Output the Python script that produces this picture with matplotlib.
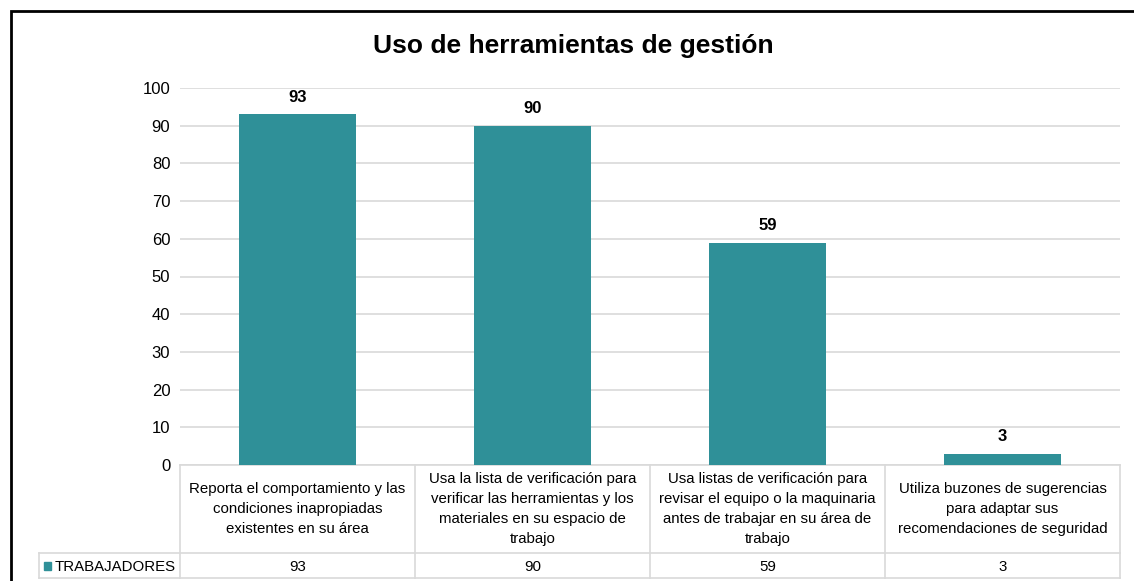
import matplotlib.pyplot as plt
import matplotlib.transforms as mtransforms
from matplotlib.patches import Rectangle

categorias = [
    "Reporta el comportamiento y las\ncondiciones inapropiadas\nexistentes en su área",
    "Usa la lista de verificación para\nverificar las herramientas y los\nmateriales en su espacio de\ntrabajo",
    "Usa listas de verificación para\nrevisar el equipo o la maquinaria\nantes de trabajar en su área de\ntrabajo",
    "Utiliza buzones de sugerencias\npara adaptar sus\nrecomendaciones de seguridad",
]
trabajadores = [93, 90, 59, 3]
serie = "TRABAJADORES"
titulo = "Uso de herramientas de gestión"

plt.rcParams['font.family'] = ['Liberation Sans', 'DejaVu Sans']

color = '#2F9098'
grid_c = '#D9D9D9'

fig = plt.figure(figsize=(11.34, 5.81), dpi=100)
ax = fig.add_axes([180 / 1134, 1 - 465 / 581, 940 / 1134, 377 / 581])

x = range(len(trabajadores))
ax.bar(x, trabajadores, width=0.5, color=color, zorder=3)
for i, v in zip(x, trabajadores):
    ax.text(i, v + 2.5, str(v), ha='center', va='bottom', fontsize=12, fontweight='bold')

ax.set_xlim(-0.5, len(trabajadores) - 0.5)
ax.set_ylim(0, 100)
ax.set_yticks(range(0, 101, 10))
ax.tick_params(axis='y', length=0, labelsize=12, pad=7)
ax.set_xticks([])
ax.grid(axis='y', color=grid_c, linewidth=1.2, zorder=0)
for s in ax.spines.values():
    s.set_visible(False)

# data table below the chart
tr = mtransforms.blended_transform_factory(ax.transData, ax.transAxes)
h_top, h_mid, h_bot = 0.0, -0.2334, -0.2997
x_left = -1.1
n = len(trabajadores)
kw = dict(transform=tr, color=grid_c, linewidth=1.2, clip_on=False)
ax.plot([-0.5, n - 0.5], [h_top, h_top], **kw)
ax.plot([x_left, n - 0.5], [h_mid, h_mid], **kw)
ax.plot([x_left, n - 0.5], [h_bot, h_bot], **kw)
for b in range(n + 1):
    ax.plot([b - 0.5, b - 0.5], [h_top, h_bot], **kw)
ax.plot([x_left, x_left], [h_mid, h_bot], **kw)

for i, (c, v) in enumerate(zip(categorias, trabajadores)):
    ax.text(i, (h_top + h_mid) / 2, c, transform=tr, ha='center', va='center',
            fontsize=10.8, linespacing=1.55, clip_on=False)
    ax.text(i, (h_mid + h_bot) / 2 - 0.004, str(v), transform=tr, ha='center', va='center',
            fontsize=10.8, clip_on=False)

ax.add_patch(Rectangle((x_left + 0.022, (h_mid + h_bot) / 2 - 0.012), 0.028, 0.022,
                       transform=tr, color=color, clip_on=False))
ax.text(x_left + 0.068, (h_mid + h_bot) / 2 - 0.004, serie, transform=tr, ha='left',
        va='center', fontsize=10.8, clip_on=False)

fig.text(573 / 1134, 1 - 46 / 581, titulo, ha='center', va='center',
         fontsize=19, fontweight='bold')

# outer chart border (cut by the image edge on right and bottom)
fig.add_artist(Rectangle((11 / 1134, -0.1), 1.2, 1 - 11 / 581 + 0.1,
                         transform=fig.transFigure, fill=False, edgecolor='black',
                         linewidth=2))

fig.savefig('out.png', dpi=100)
